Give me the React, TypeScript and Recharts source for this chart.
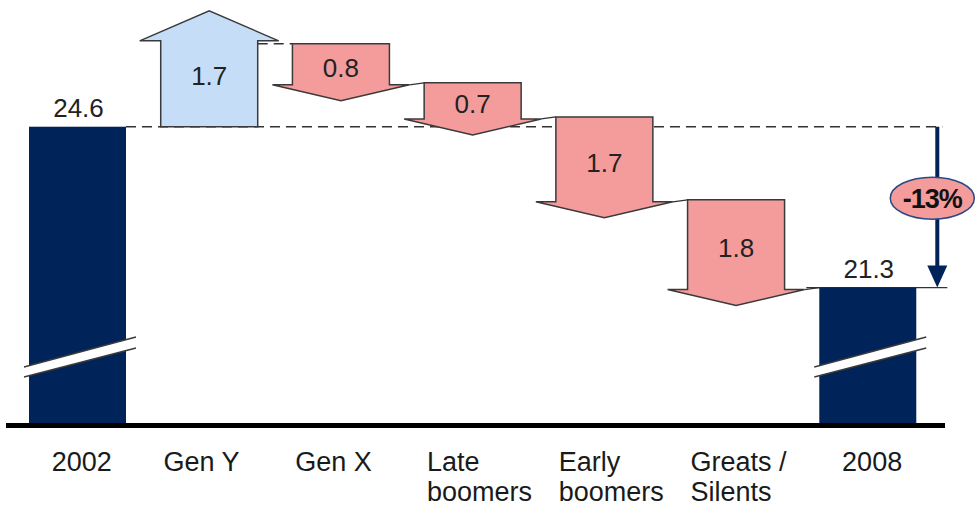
import React from 'react';
import { BarChart, Bar, XAxis, YAxis } from 'recharts';

// values
const categories = ['2002', 'Gen Y', 'Gen X', 'Late\nboomers', 'Early\nboomers', 'Greats /\nSilents', '2008'];
const startTotal = 24.6;
const endTotal = 21.3;
const deltas = [1.7, -0.8, -0.7, -1.7, -1.8];
const axisMin = 18.5;
const axisMax = 27.2;

const CHART_W = 976;
const CHART_H = 508;
const MARGIN = { top: 0, right: 42, bottom: 4, left: 12 };
const BAND_W = (CHART_W - MARGIN.left - MARGIN.right) / categories.length;

const NAVY = '#00245a';
const PINK = '#f49c9c';
const LIGHT_BLUE = '#c6ddf7';
const EDGE = '#3a3a3a';
const FONT = '"Liberation Sans", Arial, sans-serif';

type Row = { name: string; kind: 'start' | 'up' | 'down' | 'end'; from: number; to: number; range: [number, number] };

const data: Row[] = (() => {
  const rows: Row[] = [{ name: categories[0], kind: 'start', from: axisMin, to: startTotal, range: [axisMin, startTotal] }];
  let level = startTotal;
  deltas.forEach((d, i) => {
    const next = level + d;
    rows.push({
      name: categories[i + 1],
      kind: d >= 0 ? 'up' : 'down',
      from: level,
      to: next,
      range: [Math.min(level, next), Math.max(level, next)],
    });
    level = next;
  });
  rows.push({ name: categories[categories.length - 1], kind: 'end', from: axisMin, to: endTotal, range: [axisMin, endTotal] });
  return rows;
})();

const pctChange = Math.round(((endTotal - startTotal) / startTotal) * 100);

function BreakMark({ x, width, baseY }: { x: number; width: number; baseY: number }) {
  const l = x - 5;
  const r = x + width + 10;
  return (
    <g>
      <polygon points={`${l},${baseY - 57} ${r},${baseY - 87} ${r},${baseY - 76} ${l},${baseY - 47}`} fill="#fff" />
      <line x1={l} y1={baseY - 57} x2={r} y2={baseY - 87} stroke={EDGE} strokeWidth={1.3} />
      <line x1={l} y1={baseY - 47} x2={r} y2={baseY - 76} stroke={EDGE} strokeWidth={1.3} />
    </g>
  );
}

function WaterfallShape(props: any) {
  const { x, y, width, height, payload } = props;
  const row: Row = payload;
  const [lo, hi] = row.range;
  const ppu = height / (hi - lo);
  const yOf = (v: number) => y + (hi - v) * ppu;
  const cx = x + width / 2;
  const nextLeft = x + BAND_W;
  const baseY = yOf(axisMin);

  if (row.kind === 'start' || row.kind === 'end') {
    const topY = yOf(row.to);
    const label = (
      <text x={cx + 1} y={topY - 10} textAnchor="middle" fontSize={26} fontFamily={FONT} fill="#222">
        {row.to.toFixed(1)}
      </text>
    );
    if (row.kind === 'start') {
      const lastCenter = cx + (categories.length - 1) * BAND_W;
      return (
        <g>
          <line x1={x + width} y1={topY} x2={lastCenter + width / 2 + 26} y2={topY} stroke="#333" strokeWidth={1.5} strokeDasharray="10 6" />
          <rect x={x} y={topY} width={width} height={baseY - topY} fill={NAVY} />
          <BreakMark x={x} width={width} baseY={baseY} />
          {label}
        </g>
      );
    }
    const arrowX = x + width + 21;
    const fromY = yOf(startTotal);
    const ellY = (fromY + topY) / 2 - 9;
    return (
      <g>
        <line x1={x - 13} y1={topY} x2={arrowX + 10} y2={topY} stroke="#333" strokeWidth={1.3} />
        <rect x={x} y={topY} width={width} height={baseY - topY} fill={NAVY} />
        <BreakMark x={x} width={width} baseY={baseY} />
        {label}
        <line x1={arrowX} y1={fromY} x2={arrowX} y2={topY - 20} stroke={NAVY} strokeWidth={4} />
        <polygon points={`${arrowX - 10},${topY - 22} ${arrowX + 10},${topY - 22} ${arrowX},${topY}`} fill={NAVY} />
        <ellipse cx={arrowX - 5} cy={ellY} rx={42} ry={21} fill={PINK} stroke="#2b4a85" strokeWidth={1.5} />
        <text x={arrowX - 5} y={ellY} dy="0.36em" textAnchor="middle" fontSize={27} fontWeight="bold" letterSpacing={-1} fontFamily={FONT} fill="#111">
          {`${pctChange}%`}
        </text>
        <line
          x1={MARGIN.left - 6}
          y1={baseY + 1.5}
          x2={CHART_W - MARGIN.right + 11}
          y2={baseY + 1.5}
          stroke="#000"
          strokeWidth={5}
        />
      </g>
    );
  }

  const startY = yOf(row.from);
  const endY = yOf(row.to);
  const value = Math.abs(row.to - row.from).toFixed(1);

  if (row.kind === 'up') {
    const shoulder = endY - 3;
    const tip = shoulder - 30;
    const pts = [
      [x, startY],
      [x, shoulder],
      [x - 21, shoulder],
      [cx, tip],
      [x + width + 21, shoulder],
      [x + width, shoulder],
      [x + width, startY],
    ];
    return (
      <g>
        <line x1={x + width} y1={endY} x2={nextLeft} y2={endY} stroke="#333" strokeWidth={1.5} strokeDasharray="10 6" />
        <polygon points={pts.map((p) => p.join(',')).join(' ')} fill={LIGHT_BLUE} stroke={EDGE} strokeWidth={1.5} />
        <text x={cx} y={(startY + endY) / 2 - 10} dy="0.36em" textAnchor="middle" fontSize={26} fontFamily={FONT} fill="#222">
          {value}
        </text>
      </g>
    );
  }

  const shoulder = endY + 2;
  const tip = shoulder + 16;
  const pts = [
    [x, startY],
    [x + width, startY],
    [x + width, shoulder],
    [x + width + 20, shoulder],
    [cx, tip],
    [x - 20, shoulder],
    [x, shoulder],
  ];
  return (
    <g>
      <line x1={x + width + 20} y1={shoulder} x2={nextLeft} y2={endY} stroke="#333" strokeWidth={1.3} />
      <polygon points={pts.map((p) => p.join(',')).join(' ')} fill={PINK} stroke={EDGE} strokeWidth={1.5} />
      <text x={cx} y={(startY + endY) / 2 + 4} dy="0.36em" textAnchor="middle" fontSize={26} fontFamily={FONT} fill="#222">
        {value}
      </text>
    </g>
  );
}

function CategoryTick(props: any) {
  const { x, payload } = props;
  const lines: string[] = String(payload.value).split('\n');
  const isTotal = payload.index === 0 || payload.index === categories.length - 1;
  const baseY = CHART_H - MARGIN.bottom - 80 + 47;
  const tx = isTotal ? x + 4 : x - 46;
  return (
    <text x={tx} y={baseY} textAnchor={isTotal ? 'middle' : 'start'} fontSize={27} fontFamily={FONT} fill="#1a1a1a">
      {lines.map((ln, i) => (
        <tspan key={i} x={tx} dy={i === 0 ? 0 : 30}>
          {ln}
        </tspan>
      ))}
    </text>
  );
}

export default function App() {
  return (
    <div style={{ position: 'absolute', left: 0, top: 0, width: CHART_W, height: CHART_H, background: '#fff' }}>
      <BarChart width={CHART_W} height={CHART_H} data={data} margin={MARGIN}>
        <XAxis dataKey="name" height={80} axisLine={false} tickLine={false} interval={0} tick={<CategoryTick />} />
        <YAxis hide type="number" domain={[axisMin, axisMax]} />
        <Bar dataKey="range" barSize={97} shape={<WaterfallShape />} isAnimationActive={false} />
      </BarChart>
    </div>
  );
}
